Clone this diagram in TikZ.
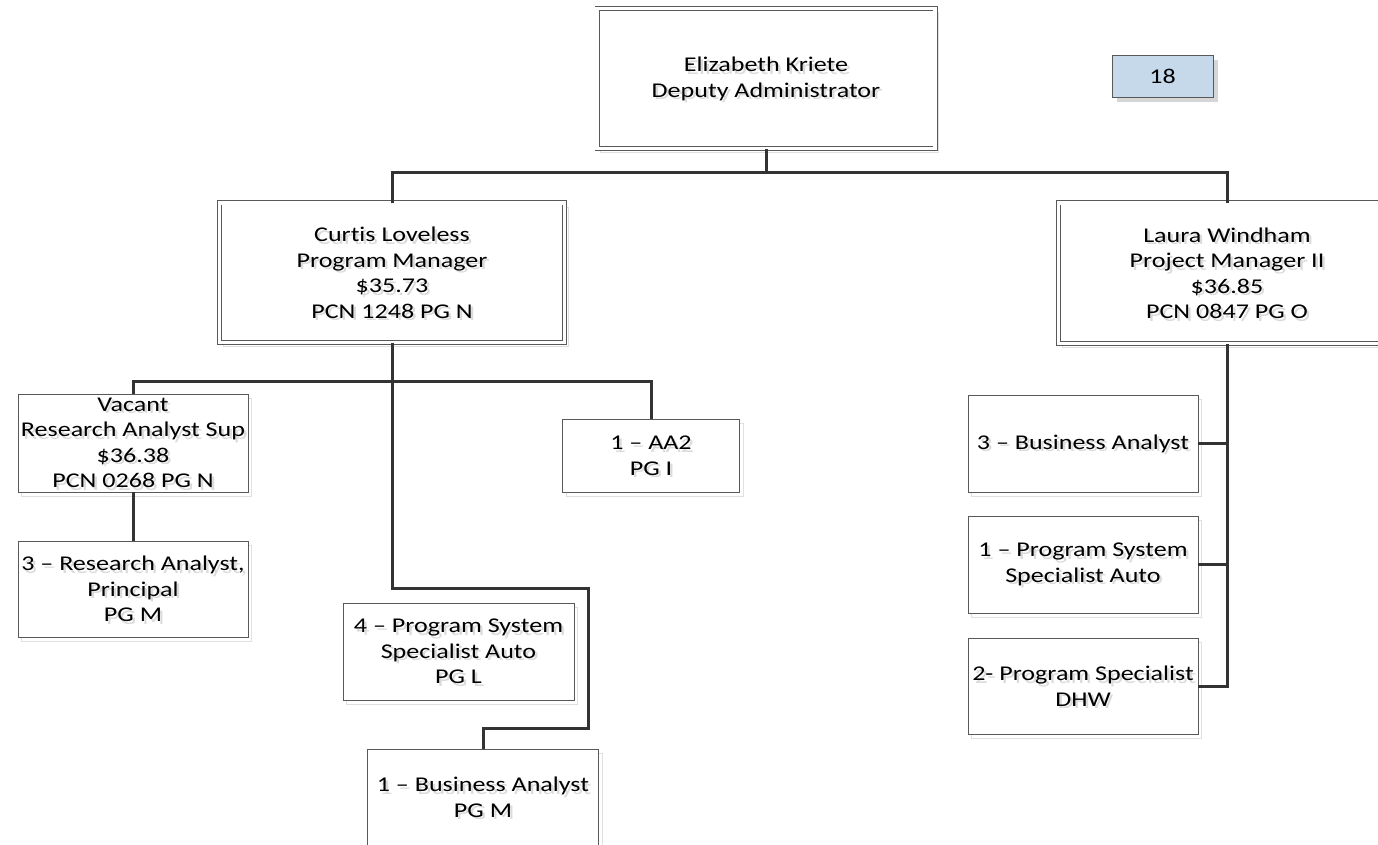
\documentclass[tikz,border=0pt]{standalone}
\usepackage{fontspec}
\setmainfont{Carlito}[FakeStretch=1.24, Ligatures=NoCommon]
\usetikzlibrary{shadows}

\definecolor{tagblue}{RGB}{198,217,235}

% one box: frame first, then a faint offset copy of the text, then the text itself
\newcommand\orgbox[4][]{%
  \node[box,#1] (#2) at (#3) {};
  \node[txtshade] (#2-shade) at ([shift={(2.5pt,-2.5pt)}]#2.center) {#4};
  \node[txt] (#2-text) at (#2.center) {#4};
}

\tikzset{
  box/.style={draw=black!65, line width=0.9pt, fill=white, inner sep=0pt,
    general shadow={shadow xshift=3.5pt, shadow yshift=-4pt, draw=black!12, fill=white}},
  twin/.style={double=white, double distance=3.2pt, line width=0.9pt},
  txt/.style={align=center, inner sep=0pt, text=black,
    font=\fontsize{21}{25.5}\selectfont},
  txtshade/.style={txt, text=black!14},
  conn/.style={draw=black!80, line width=3pt, line join=miter},
  countbox/.style={draw=black!65, line width=0.9pt, fill=tagblue,
    inner sep=0pt, minimum width=101pt, minimum height=42pt,
    general shadow={shadow xshift=5pt, shadow yshift=-5pt, fill=black!16}},
}

\begin{document}
\begin{tikzpicture}[x=1pt,y=-1pt]
\useasboundingbox (0,0) rectangle (1378,844);
\clip (0,0) rectangle (1378,844);

% head of the division
\orgbox[twin, minimum width=338pt, minimum height=140pt]{head}{766,78.7}%
  {Elizabeth Kriete\\Deputy Administrator}

% headcount tag
\node[countbox] (count) at (1162.5,76) {};
\node[txt] (count-text) at (count.center) {18};

% managers
\orgbox[twin, minimum width=345pt, minimum height=139.5pt]{curtis}{392,272.7}%
  {Curtis Loveless\\Program Manager\\\$35.73\\PCN 1248 PG N}
\orgbox[twin, minimum width=337pt, minimum height=140.5pt]{laura}{1227,273.2}%
  {Laura Windham\\Project Manager II\\\$36.85\\PCN 0847 PG O}

% staff under Curtis Loveless
\orgbox[minimum width=230pt, minimum height=98pt]{vacant}{133,443}%
  {Vacant\\Research Analyst Sup\\\$36.38\\PCN 0268 PG N}
\orgbox[minimum width=230pt, minimum height=96pt]{research}{133,589}%
  {3 -- Research Analyst,\\Principal\\PG M}
\orgbox[minimum width=177pt, minimum height=73pt]{aa}{651,455.5}%
  {1 -- AA2\\PG I}
\orgbox[minimum width=231pt, minimum height=97pt]{pss4}{458.5,651.5}%
  {4 -- Program System\\Specialist Auto\\PG L}
\orgbox[minimum width=231pt, minimum height=97pt]{ba1}{483,797.5}%
  {1 -- Business Analyst\\PG M}

% staff under Laura Windham
\orgbox[minimum width=230pt, minimum height=97pt]{ba3}{1083,443.5}%
  {3 -- Business Analyst}
\orgbox[minimum width=230pt, minimum height=97pt]{pss1}{1083,564.5}%
  {1 -- Program System\\Specialist Auto}
\orgbox[minimum width=230pt, minimum height=96pt]{ps2}{1083,686}%
  {2- Program Specialist\\DHW}

% reporting lines
\draw[conn] (head.south) -- ++(0,23) coordinate (j1);
\draw[conn] (curtis.north) |- (j1) -| (laura.north);

\draw[conn] (curtis.south) -- ++(0,39) coordinate (j2);
\draw[conn] (vacant.north) |- (j2) -| (aa.north);
\draw[conn] (vacant.south) -- (research.north);
\draw[conn] (j2) -- ++(0,207) -- ++(196,0) -- ++(0,140) -| (ba1.north);

\draw[conn] (laura.south) |- (ps2.east);
\draw[conn] (ba3.east) -- (ba3.east -| laura.south);
\draw[conn] (pss1.east) -- (pss1.east -| laura.south);
\end{tikzpicture}
\end{document}
